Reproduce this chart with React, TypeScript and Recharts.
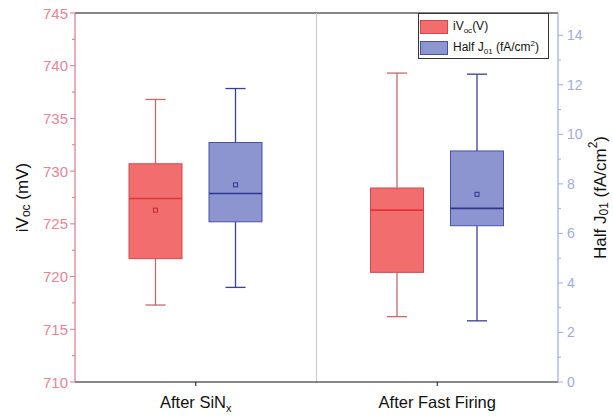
import { ComposedChart, Bar, XAxis, YAxis, ReferenceLine } from 'recharts'

const categories = ['After SiNx', 'After Fast Firing']

// iVoc (mV), left axis
const ivocMin = [717.3, 716.2]
const ivocQ1 = [721.7, 720.4]
const ivocMedian = [727.4, 726.3]
const ivocQ3 = [730.7, 728.4]
const ivocMax = [736.8, 739.3]
const ivocMean: (number | null)[] = [726.3, null]

// Half J01 (fA/cm2), right axis
const j01Min = [3.82, 2.47]
const j01Q1 = [6.47, 6.31]
const j01Median = [7.61, 7.01]
const j01Q3 = [9.67, 9.33]
const j01Max = [11.85, 12.43]
const j01Mean = [7.96, 7.58]

const ivocTicks = [710, 712.5, 715, 717.5, 720, 722.5, 725, 727.5, 730, 732.5, 735, 737.5, 740, 742.5, 745]
const j01Ticks = [0, 1, 2, 3, 4, 5, 6, 7, 8, 9, 10, 11, 12, 13, 14]

const W = 613
const H = 417
const PLOT_LEFT = 75
const PLOT_RIGHT = 558
const PLOT_TOP = 13
const PLOT_BOTTOM = 382
const FONT = '"Liberation Sans", Arial, sans-serif'

const RED = { fill: '#F26D6D', stroke: '#D4484C', whisker: '#C46A6E', median: '#E0353A', mean: '#C0282E' }
const BLUE = { fill: '#8C95D0', stroke: '#4A50A6', whisker: '#3A3F9C', median: '#2F3590', mean: '#2F3590' }

const data = categories.map((name, i) => ({
  name,
  ivoc: [ivocMin[i], ivocMax[i]],
  ivocStats: { min: ivocMin[i], q1: ivocQ1[i], median: ivocMedian[i], q3: ivocQ3[i], max: ivocMax[i], mean: ivocMean[i] },
  j01: [j01Min[i], j01Max[i]],
  j01Stats: { min: j01Min[i], q1: j01Q1[i], median: j01Median[i], q3: j01Q3[i], max: j01Max[i], mean: j01Mean[i] },
}))

function BoxShape(props: any) {
  const { x, y, width, height, payload, statsKey, look } = props
  const s = payload[statsKey]
  const top = Math.min(y, y + height)
  const h = Math.abs(height)
  const toY = (v: number) => top + (h * (s.max - v)) / (s.max - s.min)
  const cx = x + width / 2
  const cap = width * 0.19
  return (
    <g>
      <line x1={cx} x2={cx} y1={toY(s.max)} y2={toY(s.q3)} stroke={look.whisker} strokeWidth={1.3} />
      <line x1={cx} x2={cx} y1={toY(s.q1)} y2={toY(s.min)} stroke={look.whisker} strokeWidth={1.3} />
      <line x1={cx - cap} x2={cx + cap} y1={toY(s.max)} y2={toY(s.max)} stroke={look.whisker} strokeWidth={1.3} />
      <line x1={cx - cap} x2={cx + cap} y1={toY(s.min)} y2={toY(s.min)} stroke={look.whisker} strokeWidth={1.3} />
      <rect x={x} y={toY(s.q3)} width={width} height={toY(s.q1) - toY(s.q3)} fill={look.fill} stroke={look.stroke} strokeWidth={1} />
      <line x1={x} x2={x + width} y1={toY(s.median)} y2={toY(s.median)} stroke={look.median} strokeWidth={1.6} />
      {s.mean != null && (
        <rect x={cx - 2} y={toY(s.mean) - 2} width={4} height={4} fill="none" stroke={look.mean} strokeWidth={1} />
      )}
    </g>
  )
}

function LeftTick(props: any) {
  const { payload } = props
  const y = payload.coordinate
  const major = payload.value % 5 === 0
  return (
    <g>
      <line x1={PLOT_LEFT - (major ? 5 : 3)} x2={PLOT_LEFT} y1={y} y2={y} stroke="#D9798A" strokeWidth={1} />
      {major && (
        <text x={PLOT_LEFT - 7} y={y} textAnchor="end" dominantBaseline="central" fontSize={15} fontFamily={FONT} fill="#E58596">
          {payload.value}
        </text>
      )}
    </g>
  )
}

function RightTick(props: any) {
  const { payload } = props
  const y = payload.coordinate
  const major = payload.value % 2 === 0
  return (
    <g>
      <line x1={PLOT_RIGHT} x2={PLOT_RIGHT + (major ? 5 : 3)} y1={y} y2={y} stroke="#A3AADB" strokeWidth={1} />
      {major && (
        <text x={PLOT_RIGHT + 9} y={y} textAnchor="start" dominantBaseline="central" fontSize={14} fontFamily={FONT} fill="#A3AADB">
          {payload.value}
        </text>
      )}
    </g>
  )
}

function XTick(props: any) {
  const { payload } = props
  const x = payload.coordinate
  const v = String(payload.value)
  const sub = v.endsWith('SiNx')
  return (
    <g>
      <line x1={x} x2={x} y1={PLOT_BOTTOM} y2={PLOT_BOTTOM + 4} stroke="#111" strokeWidth={1} />
      <text x={x} y={PLOT_BOTTOM + 26} textAnchor="middle" fontSize={16.5} fontFamily={FONT} fill="#111">
        {sub ? (
          <>
            {v.slice(0, -1)}
            <tspan dy={4} fontSize={11}>x</tspan>
          </>
        ) : (
          v
        )}
      </text>
    </g>
  )
}

function LeftTitle(props: any) {
  const vb = props.viewBox
  const cy = vb.y + vb.height / 2
  const cx = 22
  return (
    <text x={cx} y={cy} transform={`rotate(-90 ${cx} ${cy})`} textAnchor="middle" dominantBaseline="central" fontSize={17} fontFamily={FONT} fill="#111">
      iV<tspan dy={4} fontSize={12}>oc</tspan>
      <tspan dy={-4}> (mV)</tspan>
    </text>
  )
}

function RightTitle(props: any) {
  const vb = props.viewBox
  const cy = vb.y + vb.height / 2
  const cx = 600
  return (
    <text x={cx} y={cy} transform={`rotate(-90 ${cx} ${cy})`} textAnchor="middle" dominantBaseline="central" fontSize={17} fontFamily={FONT} fill="#111">
      Half J<tspan dy={4} fontSize={12}>01</tspan>
      <tspan dy={-4}> (fA/cm</tspan>
      <tspan dy={-7} fontSize={12}>2</tspan>
      <tspan dy={7}>)</tspan>
    </text>
  )
}

function LegendBox() {
  const row = { position: 'absolute' as const, left: 0, display: 'flex', alignItems: 'center' }
  const swatch = (c: { fill: string; stroke: string }) => ({
    width: 28,
    height: 14,
    background: c.fill,
    border: `1px solid ${c.stroke}`,
    boxSizing: 'border-box' as const,
    marginRight: 5,
  })
  return (
    <div
      style={{
        position: 'absolute',
        left: 418,
        top: PLOT_TOP,
        width: 131,
        height: 46,
        border: '1px solid #333',
        boxSizing: 'border-box',
        background: '#fff',
        fontFamily: FONT,
        fontSize: 12,
        color: '#111',
      }}
    >
      <div style={{ ...row, top: 5, left: 1 }}>
        <div style={swatch(RED)} />
        <span>
          iV<sub style={{ fontSize: 8 }}>oc</sub>(V)
        </span>
      </div>
      <div style={{ ...row, top: 25, left: 1 }}>
        <div style={swatch(BLUE)} />
        <span>
          Half J<sub style={{ fontSize: 8 }}>01</sub> (fA/cm<sup style={{ fontSize: 8 }}>2</sup>)
        </span>
      </div>
    </div>
  )
}

export default function App() {
  return (
    <div style={{ position: 'absolute', left: 0, top: 0, width: W, height: H, background: '#fff' }}>
      <ComposedChart
        width={W}
        height={H}
        data={data}
        margin={{ top: PLOT_TOP, right: 0, bottom: 0, left: 0 }}
        barSize={53}
        barGap={27}
      >
        <XAxis
          dataKey="name"
          axisLine={{ stroke: '#111', strokeWidth: 1.2 }}
          tickLine={false}
          tick={(p: any) => <XTick {...p} />}
          interval={0}
          height={H - PLOT_BOTTOM}
        />
        <YAxis
          yAxisId="left"
          domain={[710, 745]}
          ticks={ivocTicks}
          interval={0}
          width={PLOT_LEFT}
          axisLine={{ stroke: '#D9798A', strokeWidth: 1.2 }}
          tickLine={false}
          tick={(p: any) => <LeftTick {...p} />}
          label={(p: any) => <LeftTitle {...p} />}
        />
        <YAxis
          yAxisId="right"
          orientation="right"
          domain={[0, 14.9]}
          ticks={j01Ticks}
          interval={0}
          width={W - PLOT_RIGHT}
          axisLine={{ stroke: '#A3AADB', strokeWidth: 1.2 }}
          tickLine={false}
          tick={(p: any) => <RightTick {...p} />}
          label={(p: any) => <RightTitle {...p} />}
        />
        <ReferenceLine yAxisId="left" y={745} stroke="#111" strokeWidth={1.2} />
        <ReferenceLine yAxisId="left" x={categories[1]} position="start" stroke="#C8C8C8" strokeWidth={1} />
        <Bar
          yAxisId="left"
          dataKey="ivoc"
          isAnimationActive={false}
          shape={(p: any) => <BoxShape {...p} statsKey="ivocStats" look={RED} />}
        />
        <Bar
          yAxisId="right"
          dataKey="j01"
          isAnimationActive={false}
          shape={(p: any) => <BoxShape {...p} statsKey="j01Stats" look={BLUE} />}
        />
      </ComposedChart>
      <LegendBox />
    </div>
  )
}
